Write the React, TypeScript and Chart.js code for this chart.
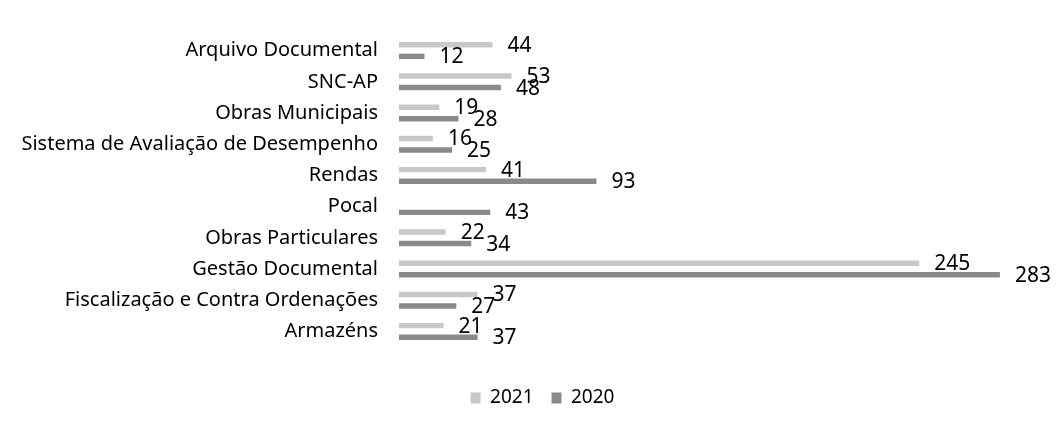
import React, { useEffect, useRef } from "react";
import { Chart, registerables } from "chart.js";

Chart.register(...registerables);

const categories = [
  "Arquivo Documental",
  "SNC-AP",
  "Obras Municipais",
  "Sistema de Avaliação de Desempenho",
  "Rendas",
  "Pocal",
  "Obras Particulares",
  "Gestão Documental",
  "Fiscalização e Contra Ordenações",
  "Armazéns",
];
const values2021: (number | null)[] = [44, 53, 19, 16, 41, null, 22, 245, 37, 21];
const values2020: (number | null)[] = [12, 48, 28, 25, 93, 43, 34, 283, 27, 37];
const seriesNames = ["2021", "2020"];
const xMin = 0;
const xMax = 300;

const FONT = "'Noto Sans', 'Open Sans', sans-serif";

const valueLabels = {
  id: "valueLabels",
  afterDatasetsDraw(chart: any) {
    const ctx = chart.ctx;
    ctx.save();
    ctx.font = `21px ${FONT}`;
    ctx.fillStyle = "#000";
    ctx.textAlign = "left";
    ctx.textBaseline = "middle";
    chart.data.datasets.forEach((ds: any, di: number) => {
      const meta = chart.getDatasetMeta(di);
      meta.data.forEach((el: any, i: number) => {
        const v = ds.data[i];
        if (v == null) return;
        ctx.fillText(String(v), el.x + 15, el.y + 1);
      });
    });
    ctx.restore();
  },
};

const legendShift = {
  id: "legendShift",
  afterLayout(chart: any) {
    const l = chart.legend;
    if (l) {
      l.left += 24.5;
      l.right += 24.5;
    }
  },
};

export default function App() {
  const ref = useRef<HTMLCanvasElement | null>(null);
  useEffect(() => {
    if (!ref.current) return;
    const chart = new Chart(ref.current, {
      type: "bar",
      data: {
        labels: categories,
        datasets: [
          {
            label: seriesNames[0],
            data: values2021,
            backgroundColor: "#c8c8c8",
            borderWidth: 0,
            categoryPercentage: 0.74,
            barPercentage: 0.47,
          },
          {
            label: seriesNames[1],
            data: values2020,
            backgroundColor: "#8a8a8a",
            borderWidth: 0,
            categoryPercentage: 0.74,
            barPercentage: 0.47,
          },
        ],
      },
      options: {
        indexAxis: "y",
        responsive: false,
        animation: false,
        layout: { padding: { left: 0, right: 20, top: 35, bottom: 8.5 } },
        plugins: {
          tooltip: { enabled: false },
          legend: {
            position: "bottom",
            align: "center",
            labels: {
              font: { family: FONT, size: 19 },
              color: "#000",
              boxWidth: 10,
              boxHeight: 11,
              padding: 18,
            },
          },
        },
        scales: {
          x: {
            min: xMin,
            max: xMax,
            grid: { display: false },
            border: { display: false },
            ticks: { display: false },
            afterFit: (s: any) => {
              s.height = 23.5;
            },
          },
          y: {
            grid: { display: false, drawTicks: false },
            border: { display: false },
            ticks: {
              font: { family: FONT, size: 20 },
              color: "#000",
              padding: 21,
              autoSkip: false,
            },
            afterFit: (s: any) => {
              s.width = 399;
            },
          },
        },
      },
      plugins: [valueLabels, legendShift],
    } as any);
    return () => chart.destroy();
  }, []);
  return (
    <div style={{ position: "absolute", left: 0, top: 0, width: 1056, height: 426, background: "#fff" }}>
      <canvas ref={ref} width={1056} height={426} style={{ display: "block" }} />
    </div>
  );
}
